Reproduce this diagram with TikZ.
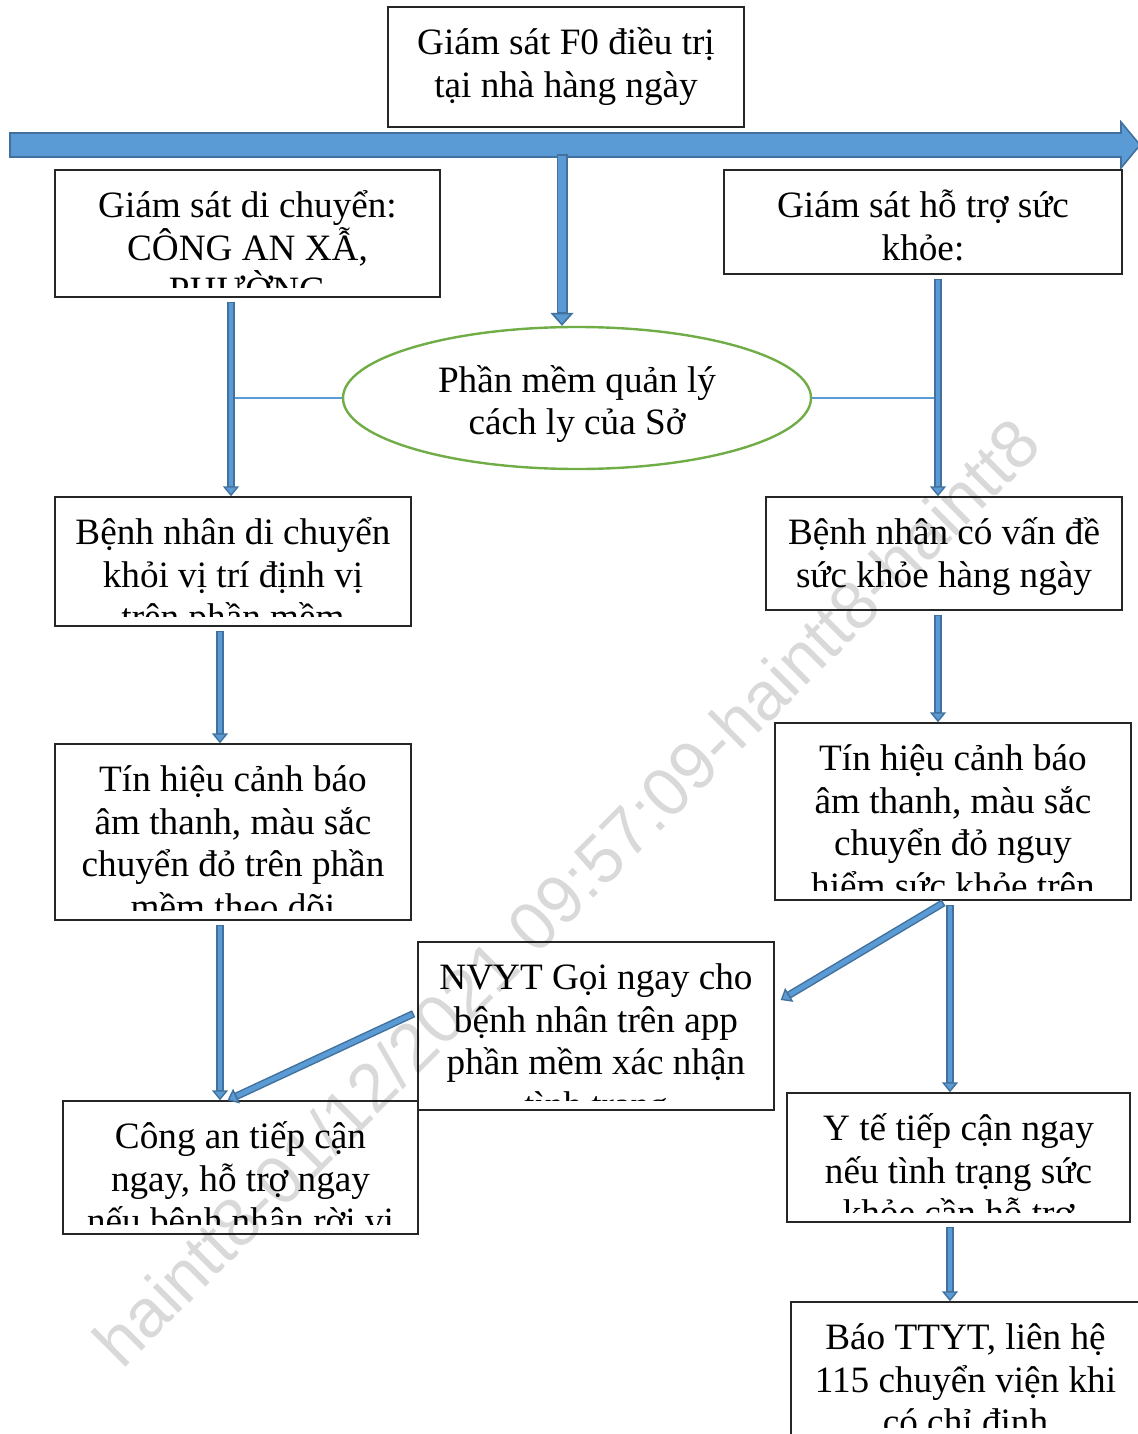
\documentclass[tikz,border=0pt]{standalone}
\usepackage{fontspec}
\setmainfont{Liberation Serif}
\newfontfamily\wmfont{Liberation Sans}
\usetikzlibrary{arrows.meta,shapes.geometric,fit}
\definecolor{tlfill}{HTML}{5B9BD5}
\definecolor{tlline}{HTML}{41719C}
\definecolor{egreen}{HTML}{70AD47}
\definecolor{thinblue}{HTML}{5B9BD5}
\newcommand\boxfont{\fontsize{18.6pt}{21.35pt}\selectfont}
\tikzset{
  flowbox/.style={draw=black!85, line width=0.7pt, inner sep=0pt},
  boxtext/.style={font=\boxfont, align=center, inner sep=0pt, anchor=north},
  conn/.style={draw=tlline, line width=3.8pt, shorten <=2pt,
    -{Triangle[width=8pt,length=5pt,line width=0.7pt,fill=tlfill,color=tlline]},
    postaction={draw=tlfill, line width=2.3pt, -, shorten >=5.2pt, shorten <=2.8pt}},
  bigconn/.style={draw=tlline, line width=5.5pt,
    -{Triangle[width=11.5pt,length=6.5pt,line width=0.8pt,fill=tlfill,color=tlline]},
    postaction={draw=tlfill, line width=4pt, -, shorten >=6.8pt, shorten <=1pt}},
  thinlink/.style={draw=thinblue, line width=0.8pt},
}
\newcommand\flowrect[6]{%
  \node[flowbox, fit={(#2,#3) (#4,#5)}] (#1) {};
  \begin{scope}
    \clip (#2,#3) rectangle (#4,#5-10);
    \node[boxtext] at ({(#2+#4)/2},#3+7) {\rule{0pt}{20pt}#6};
  \end{scope}}
\begin{document}
\begin{tikzpicture}[x=0.5pt,y=-0.5pt]
\useasboundingbox (0,0) rectangle (1137,1434);
% timeline arrow
\filldraw[fill=tlfill, draw=tlline, line width=0.8pt]
  (10,133) -- (1121,133) -- (1121,122) -- (1140,145) -- (1121,168) -- (1121,157) -- (10,157) -- cycle;
\coordinate (tlsrc) at (562,154);
\coordinate (xa) at (231,0);
\coordinate (xb) at (220,0);
\coordinate (xc) at (938,0);
\coordinate (xd) at (950,0);
% boxes
\flowrect{top}{388}{7}{744}{127}{Giám sát F0 điều trị\\tại nhà hàng ngày}
\flowrect{gd}{55}{170}{440}{297}{Giám sát di chuyển:\\CÔNG AN XẪ,\\PHƯỜNG}
\flowrect{hs}{724}{170}{1122}{274}{Giám sát hỗ trợ sức\\khỏe:}
\flowrect{bn1}{55}{497}{411}{626}{Bệnh nhân di chuyển\\khỏi vị trí định vị\\trên phần mềm}
\flowrect{bn2}{766}{497}{1122}{610}{Bệnh nhân có vấn đề\\sức khỏe hàng ngày}
\flowrect{tl}{55}{744}{411}{920}{Tín hiệu cảnh báo\\âm thanh, màu sắc\\chuyển đỏ trên phần\\mềm theo dõi}
\flowrect{tr}{775}{723}{1131}{900}{Tín hiệu cảnh báo\\âm thanh, màu sắc\\chuyển đỏ nguy\\hiểm sức khỏe trên}
\flowrect{nv}{418}{942}{774}{1110}{NVYT Gọi ngay cho\\bệnh nhân trên app\\phần mềm xác nhận\\tình trạng}
\flowrect{ca}{63}{1101}{418}{1234}{Công an tiếp cận\\ngay, hỗ trợ ngay\\nếu bệnh nhân rời vị}
\flowrect{yt}{787}{1093}{1130}{1222}{Y tế tiếp cận ngay\\nếu tình trạng sức\\khỏe cần hỗ trợ}
\flowrect{bao}{791}{1302}{1140}{1437}{Báo TTYT, liên hệ\\115 chuyển viện khi\\có chỉ định}
% ellipse
\node[ellipse, draw=egreen, line width=1.2pt, minimum width=234pt, minimum height=71pt,
  inner sep=0pt] (ell) at (577,398) {};
\node[font=\boxfont, align=center, inner sep=0pt] (elltext) at ([yshift=-3pt]ell.center)
  {Phần mềm quản lý\\cách ly của Sở};
% links
\draw[thinlink] (xa |- ell.west) -- (ell.west);
\draw[thinlink] (ell.east) -- (xc |- ell.east);
\draw[bigconn] (tlsrc) -- (ell.north -| tlsrc);
\draw[conn] (gd.south -| xa) -- (bn1.north -| xa);
\draw[conn] (hs.south -| xc) -- (bn2.north -| xc);
\draw[conn] (bn1.south -| xb) -- (tl.north -| xb);
\draw[conn] (bn2.south -| xc) -- (tr.north -| xc);
\draw[conn] (tl.south -| xb) -- (ca.north -| xb);
\draw[conn] ([yshift=7pt]nv.west) -- ([xshift=-6.5pt]ca.north);
\draw[conn] ([xshift=-3pt]tr.south) -- ([xshift=3pt,yshift=13pt]nv.east);
\draw[conn] (tr.south -| xd) -- (yt.north -| xd);
\draw[conn] (yt.south -| xd) -- (bao.north -| xd);
% watermark
\node[rotate=45, font=\wmfont\fontsize{34pt}{40pt}\selectfont, text=black, text opacity=0.15]
  (wm) at (566,892) {haintt8-01/12/2021 09:57:09-haintt8-haintt8};
\end{tikzpicture}
\end{document}
